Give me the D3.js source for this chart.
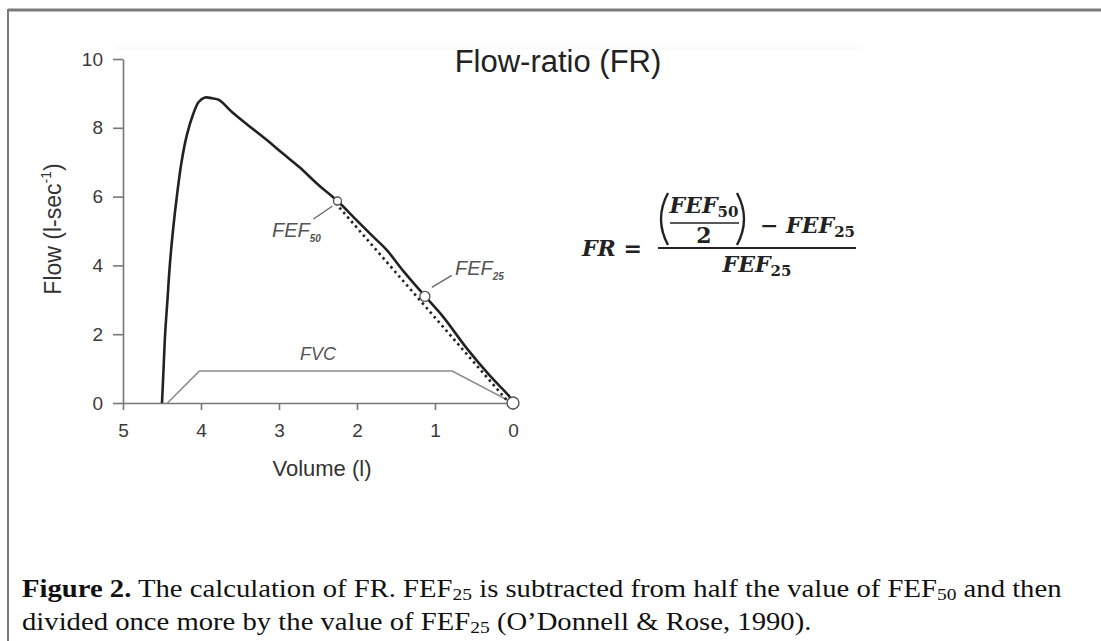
<!DOCTYPE html>
<html>
<head>
<meta charset="utf-8">
<script src="https://cdn.jsdelivr.net/npm/d3@7"></script>
<style>
  html, body { margin: 0; padding: 0; background: #fff; }
  svg { display: block; }
</style>
</head>
<body>
<svg id="chart" width="1101" height="641"></svg>
<script>
// ---------- data ----------
const curveVolume = [4.50, 4.48, 4.46, 4.43, 4.40, 4.36, 4.31, 4.25, 4.18, 4.10, 4.03, 3.95, 3.86, 3.77, 3.60, 3.40, 3.16, 2.95, 2.74, 2.50, 2.25, 2.00, 1.80, 1.62, 1.40, 1.13, 0.90, 0.59, 0.30, 0.04, 0.00];
const curveFlow   = [0.00, 1.00, 2.00, 3.00, 4.00, 5.00, 6.00, 7.00, 7.80, 8.40, 8.75, 8.88, 8.86, 8.81, 8.45, 8.08, 7.65, 7.25, 6.86, 6.35, 5.87, 5.30, 4.85, 4.45, 3.82, 3.11, 2.52, 1.58, 0.80, 0.17, 0.00];
const dottedVolume = [2.25, 0.00];
const dottedFlow   = [5.87, 0.00];
const fvcVolume = [4.43, 4.02, 0.78, 0.00];
const fvcFlow   = [0.00, 0.93, 0.93, 0.00];
const markerNames  = ["FEF50", "FEF25", "END"];
const markerVolume = [2.25, 1.13, 0.00];
const markerFlow   = [5.87, 3.10, 0.00];
const xTicks = [5, 4, 3, 2, 1, 0];
const yTicks = [0, 2, 4, 6, 8, 10];
const titleText = "Flow-ratio (FR)";
const xLabel = "Volume (l)";

// ---------- setup ----------
const svg = d3.select("#chart");
const x = d3.scaleLinear().domain([5, 0]).range([123, 513]);
const y = d3.scaleLinear().domain([0, 10]).range([403, 59]);
const sans = "'Liberation Sans', Arial, sans-serif";
const serif = "'Liberation Serif', 'Times New Roman', serif";
const mathFont = "'DejaVu Serif', serif";

// frame
svg.append("line").attr("x1", 8).attr("y1", 10).attr("x2", 1101).attr("y2", 10)
  .attr("stroke", "#7a7a7a").attr("stroke-width", 3);
svg.append("line").attr("x1", 8).attr("y1", 9).attr("x2", 8).attr("y2", 641)
  .attr("stroke", "#7a7a7a").attr("stroke-width", 2);

// faint dotted top guide
svg.append("line").attr("x1", 118).attr("x2", 862).attr("y1", 48).attr("y2", 48)
  .attr("stroke", "#ececec").attr("stroke-width", 1).attr("stroke-dasharray", "2,2");

// axes
const yAxis = svg.append("g").attr("transform", "translate(123,0)")
  .call(d3.axisLeft(y).tickValues(yTicks).tickFormat(d3.format("d")).tickSize(10).tickSizeOuter(0).tickPadding(10));
const xAxis = svg.append("g").attr("transform", "translate(0,403)")
  .call(d3.axisBottom(x).tickValues(xTicks).tickFormat(d3.format("d")).tickSize(7).tickSizeOuter(0).tickPadding(14));
[yAxis, xAxis].forEach(a => {
  a.attr("font-family", sans).attr("font-size", 19);
  a.select(".domain").attr("stroke", "#777").attr("stroke-width", 1.6);
  a.selectAll(".tick line").attr("stroke", "#777").attr("stroke-width", 1.6);
  a.selectAll(".tick text").attr("fill", "#3a3a3a").attr("font-size", 19);
});

// FVC bracket
const fvcPts = fvcVolume.map((v, i) => [x(v), y(fvcFlow[i])]);
svg.append("path").attr("d", d3.line()(fvcPts))
  .attr("fill", "none").attr("stroke", "#8a8a8a").attr("stroke-width", 1.6);
svg.append("text").attr("x", 318).attr("y", 360).attr("text-anchor", "middle")
  .style("font-family", sans).style("font-size", "18px").style("font-style", "italic")
  .attr("fill", "#555").text("FVC");

// dotted line
const dotPts = dottedVolume.map((v, i) => [x(v), y(dottedFlow[i])]);
svg.append("path").attr("d", d3.line()(dotPts))
  .attr("transform", "translate(-2,2)")
  .attr("fill", "none").attr("stroke", "#222").attr("stroke-width", 2.6)
  .attr("stroke-dasharray", "2.5,3.5");

// main curve
const curvePts = curveVolume.map((v, i) => [x(v), y(curveFlow[i])]);
svg.append("path").attr("d", d3.line().curve(d3.curveCatmullRom)(curvePts))
  .attr("fill", "none").attr("stroke", "#222").attr("stroke-width", 2.6)
  .attr("stroke-linejoin", "round");

// markers
const markerR = [4, 5, 6];
markerNames.forEach((n, i) => {
  svg.append("circle").attr("cx", x(markerVolume[i])).attr("cy", y(markerFlow[i]))
    .attr("r", markerR[i]).attr("fill", "#fff").attr("stroke", "#555").attr("stroke-width", 1.4);
});

// FEF labels with leaders
function fefLabel(px, py, sub) {
  const t = svg.append("text").attr("x", px).attr("y", py)
    .style("font-family", sans).style("font-size", "20px").style("font-style", "italic")
    .attr("fill", "#555");
  t.append("tspan").text("FEF");
  t.append("tspan").attr("dy", 5).style("font-size", "10px").style("font-weight", "bold").text(sub);
}
const f50x = x(markerVolume[0]), f50y = y(markerFlow[0]);
svg.append("line").attr("x1", f50x - 5).attr("y1", f50y + 5).attr("x2", f50x - 24).attr("y2", f50y + 18)
  .attr("stroke", "#666").attr("stroke-width", 1.3);
fefLabel(272, 237, "50");
const f25x = x(markerVolume[1]), f25y = y(markerFlow[1]);
svg.append("line").attr("x1", f25x + 7).attr("y1", f25y - 9).attr("x2", f25x + 27).attr("y2", f25y - 21)
  .attr("stroke", "#666").attr("stroke-width", 1.3);
fefLabel(455, 275, "25");

// title
svg.append("text").attr("x", 558).attr("y", 72).attr("text-anchor", "middle")
  .style("font-family", sans).style("font-size", "31px").attr("fill", "#222").text(titleText);

// axis labels
svg.append("text").attr("x", 322).attr("y", 476).attr("text-anchor", "middle")
  .style("font-family", sans).style("font-size", "22px").attr("fill", "#333").text(xLabel);
const yl = svg.append("text").attr("transform", "translate(61,229) rotate(-90)")
  .attr("text-anchor", "middle")
  .style("font-family", sans).style("font-size", "23px").attr("fill", "#333");
yl.append("tspan").text("Flow (l-sec");
yl.append("tspan").attr("dy", -10).style("font-size", "14px").text("-1");
yl.append("tspan").attr("dy", 10).text(")");

// formula
const fm = svg.append("g").attr("fill", "#222");
function mtext(px, py, parts, anchor) {
  const t = fm.append("text").attr("x", px).attr("y", py)
    .attr("text-anchor", anchor || "start")
    .style("font-family", mathFont).style("font-size", "22px").style("font-weight", "bold");
  parts.forEach(p => {
    const s = t.append("tspan").text(p.t).style("font-style", p.up ? "normal" : "italic");
    if (p.sub) s.attr("dy", 4).style("font-size", "15px");
    if (p.after) s.attr("dy", -4);
  });
  return t;
}
mtext(582, 256, [{ t: "FR" }, { t: " = ", up: true }]);
fm.append("line").attr("x1", 658).attr("x2", 856).attr("y1", 248).attr("y2", 248)
  .attr("stroke", "#222").attr("stroke-width", 2);
fm.append("path").attr("d", "M668,193 Q654,219 668,245").attr("fill", "none").attr("stroke", "#222").attr("stroke-width", 2.4);
fm.append("path").attr("d", "M737,193 Q751,219 737,245").attr("fill", "none").attr("stroke", "#222").attr("stroke-width", 2.4);
mtext(704, 213, [{ t: "FEF" }, { t: "50", up: true, sub: true }], "middle");
fm.append("line").attr("x1", 670).attr("x2", 739).attr("y1", 223).attr("y2", 223)
  .attr("stroke", "#222").attr("stroke-width", 1.6);
mtext(704, 243, [{ t: "2", up: true }], "middle");
mtext(855, 233, [{ t: "\u2212 ", up: true }, { t: "FEF" }, { t: "25", up: true, sub: true }], "end");
mtext(757, 272, [{ t: "FEF" }, { t: "25", up: true, sub: true }], "middle");

// caption
const cap = svg.append("g").attr("fill", "#111").style("font-family", serif);
function capLine(py, parts) {
  const g = cap.append("g").attr("transform", `translate(22,${py})`);
  const t = g.append("text").attr("x", 0).attr("y", 0).style("font-size", "26px");
  parts.forEach(p => {
    const s = t.append("tspan").text(p.t);
    if (p.b) s.style("font-weight", "bold");
    if (p.sub) s.attr("dy", 3).style("font-size", "0.68em");
    if (p.after) s.attr("dy", -3);
  });
  return { g, t };
}
const l1 = capLine(597, [
  { t: "Figure 2.", b: true },
  { t: " The calculation of FR. FEF" },
  { t: "25", sub: true },
  { t: " is subtracted from half the value of FEF", after: true },
  { t: "50", sub: true },
  { t: " and then", after: true }
]);
const l2 = capLine(630, [
  { t: "divided once more by the value of FEF" },
  { t: "25", sub: true },
  { t: " (O\u2019Donnell & Rose, 1990).", after: true }
]);
const w = l1.t.node().getComputedTextLength();
const sx = 1040 / w;
l1.g.attr("transform", `translate(22,597) scale(${sx},1)`);
l2.g.attr("transform", `translate(22,630) scale(${sx},1)`);
</script>
</body>
</html>
